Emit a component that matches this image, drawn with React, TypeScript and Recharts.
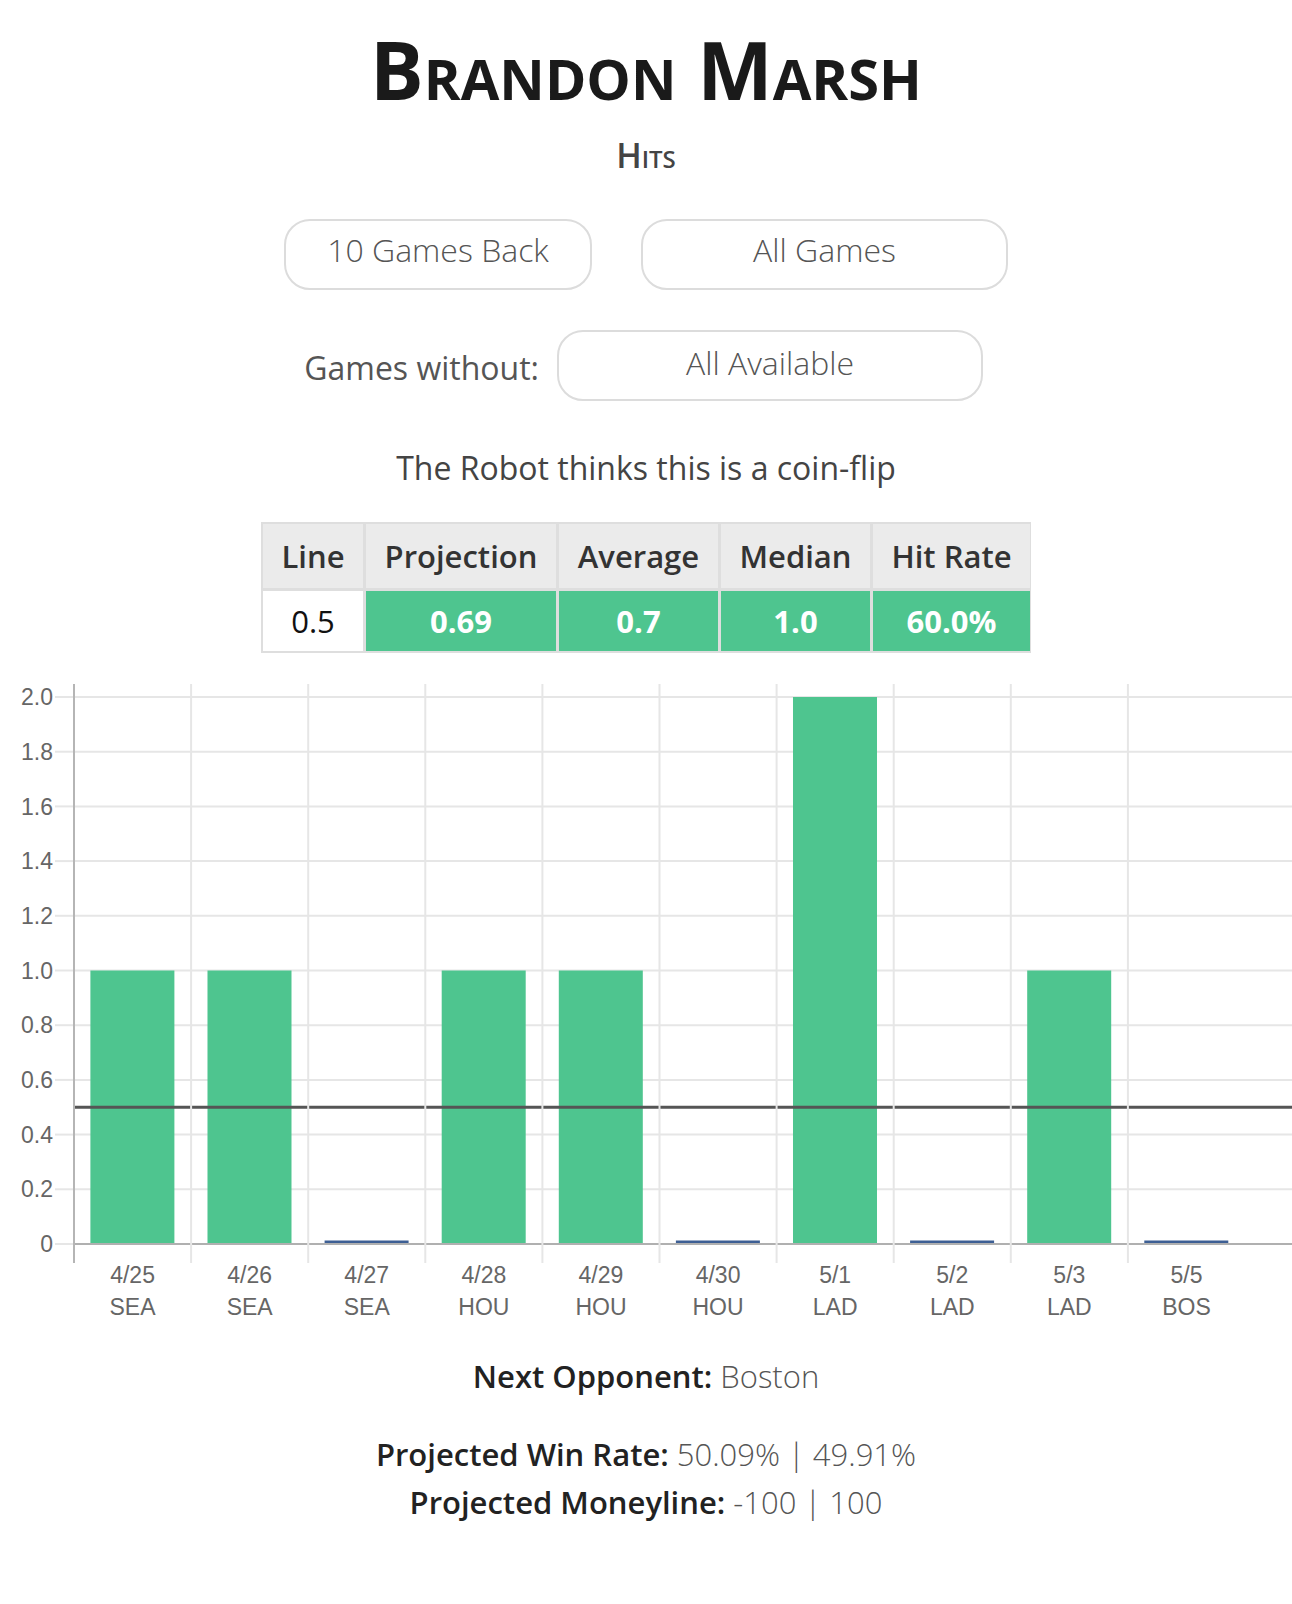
import React from 'react';
import { BarChart, Bar, XAxis, YAxis, CartesianGrid, ReferenceLine } from 'recharts';

const gameDates = ['4/25', '4/26', '4/27', '4/28', '4/29', '4/30', '5/1', '5/2', '5/3', '5/5'];
const opponents = ['SEA', 'SEA', 'SEA', 'HOU', 'HOU', 'HOU', 'LAD', 'LAD', 'LAD', 'BOS'];
const hits = [1, 1, 0, 1, 1, 0, 2, 0, 1, 0];
const yTicks = [0, 0.2, 0.4, 0.6, 0.8, 1.0, 1.2, 1.4, 1.6, 1.8, 2.0];
const propLine = 0.5;

const statHeaders = ['Line', 'Projection', 'Average', 'Median', 'Hit Rate'];
const statValues = ['0.5', '0.69', '0.7', '1.0', '60.0%'];

const chartData = gameDates.map((d, i) => ({ date: d, opp: opponents[i], hits: hits[i] }));

const GREEN = '#4ec58f';
const SANS = '"Open Sans", "Noto Sans", sans-serif';
const CHART_FONT = '"Liberation Sans", Arial, sans-serif';

// chart geometry
const CHART_W = 1292;
const CHART_H = 700;
const MARGIN = { top: 37, right: 0, bottom: 36, left: 0 };
const Y_AXIS_W = 74;
const X_AXIS_H = 80;
const PAD_RIGHT = 47;
const PLOT_H = CHART_H - MARGIN.top - MARGIN.bottom - X_AXIS_H;
const BAND_W = (CHART_W - Y_AXIS_W - PAD_RIGHT) / gameDates.length;

// places a single line of text so that its cap-height centre lands on cy
const textTop = (cy: number, fs: number) => cy - 0.031 * fs - fs / 2;

const XTick = (props: any) => {
  const { x, y, payload, index } = props;
  const half = payload && payload.offset ? payload.offset : BAND_W / 2;
  const bx = x - half;
  return (
    <g>
      <line x1={bx} x2={bx} y1={y - PLOT_H - 13} y2={y + 19}
        stroke={index === 0 ? '#b5b5b5' : '#e6e6e6'} strokeWidth={2} />
      <text x={x} y={y + 31} textAnchor="middle" fill="#666" fontSize={23} fontFamily={CHART_FONT}>
        <tspan x={x} dy="0.355em">{payload.value}</tspan>
        <tspan x={x} dy={32}>{opponents[index]}</tspan>
      </text>
    </g>
  );
};

// games with no hits show as a thin blue stroke on the baseline
const HitBar = (props: any) => {
  const { x, y, width, height, payload } = props;
  if (payload.hits === 0) {
    return <rect x={x} y={y - 3.5} width={width} height={3} fill="#3d5f94" />;
  }
  return <rect x={x} y={y} width={width} height={height} fill={GREEN} />;
};

const Pill = ({ left, top, width, label, lift }: any) => (
  <div style={{
    position: 'absolute', left, top, width, height: 71, boxSizing: 'border-box',
    border: '2px solid #dcdcdc', borderRadius: 26, display: 'flex',
    alignItems: 'center', justifyContent: 'center', paddingBottom: lift,
    fontSize: 32, fontWeight: 300, color: '#555', lineHeight: '32px',
  }}>{label}</div>
);

const colWidths = [103, 193, 162, 152, 160];

const bottomLine = (cy: number) => ({
  position: 'absolute' as const, left: 0, width: 1292, top: textTop(cy, 31), textAlign: 'center' as const,
  fontSize: 31, lineHeight: '31px', color: '#555', fontWeight: 300,
});

const App = () => {
  return (
    <div style={{ position: 'relative', width: 1292, height: 1604, background: '#fff', fontFamily: SANS }}>
      <style>{'body { margin: 0; }'}</style>

      <div style={{ position: 'absolute', left: 0, width: 1292, top: textTop(71, 80), textAlign: 'center',
        fontSize: 80, lineHeight: '80px', fontWeight: 700, fontVariant: 'small-caps', color: '#1a1a1a' }}>
        Brandon Marsh
      </div>
      <div style={{ position: 'absolute', left: 0, width: 1292, top: textTop(156, 34), textAlign: 'center',
        fontSize: 34, lineHeight: '34px', fontWeight: 600, fontVariant: 'small-caps', color: '#444' }}>
        Hits
      </div>

      <Pill left={284} top={219} width={308} label="10 Games Back" lift={9} />
      <Pill left={641} top={219} width={367} label="All Games" lift={9} />

      <div style={{ position: 'absolute', right: 1292 - 539, top: textTop(369, 32), fontSize: 32,
        lineHeight: '32px', color: '#555' }}>
        Games without:
      </div>
      <Pill left={557} top={330} width={426} label="All Available" lift={5} />

      <div style={{ position: 'absolute', left: 0, width: 1292, top: textTop(469, 32), textAlign: 'center',
        fontSize: 32, lineHeight: '32px', color: '#444' }}>
        The Robot thinks this is a coin-flip
      </div>

      <div style={{ position: 'absolute', left: 261, top: 522, width: 770, boxSizing: 'border-box',
        background: '#dedede', padding: 2, display: 'grid',
        gridTemplateColumns: colWidths.map((w) => `${w - 3}px`).join(' '), columnGap: 3, rowGap: 3 }}>
        {statHeaders.map((h) => (
          <div key={h} style={{ height: 64, background: '#ebebeb', display: 'flex', alignItems: 'center',
            justifyContent: 'center', fontSize: 31, fontWeight: 600, color: '#333' }}>{h}</div>
        ))}
        {statValues.map((v, i) => (
          <div key={i} style={{ height: 60, background: i === 0 ? '#fff' : GREEN, display: 'flex',
            alignItems: 'center', justifyContent: 'center', fontSize: 31,
            fontWeight: i === 0 ? 500 : 700, color: i === 0 ? '#111' : '#fff' }}>{v}</div>
        ))}
      </div>

      <div style={{ position: 'absolute', left: 0, top: 660 }}>
        <BarChart width={CHART_W} height={CHART_H} data={chartData} margin={MARGIN} barCategoryGap="14%">
          <CartesianGrid vertical={false} stroke="#e6e6e6" strokeWidth={2} />
          <XAxis dataKey="date" height={X_AXIS_H} interval={0} tick={<XTick />} tickSize={0} tickMargin={0}
            tickLine={false} axisLine={{ stroke: '#b0b0b0', strokeWidth: 2 }} padding={{ left: 0, right: PAD_RIGHT }} />
          <YAxis width={Y_AXIS_W} domain={[0, 2]} ticks={yTicks} interval={0} axisLine={false}
            tickLine={{ stroke: '#e6e6e6', strokeWidth: 2 }} tickSize={19} tickMargin={2}
            tickFormatter={(v: number) => (v === 0 ? '0' : v.toFixed(1))}
            tick={{ fill: '#666', fontSize: 23, fontFamily: CHART_FONT }} />
          <Bar dataKey="hits" isAnimationActive={false} shape={<HitBar />} />
          <ReferenceLine y={propLine} stroke="#555" strokeWidth={3} />
        </BarChart>
      </div>

      <div style={bottomLine(1377)}>
        <span style={{ fontWeight: 600, color: '#222' }}>Next Opponent:</span> Boston
      </div>
      <div style={bottomLine(1455)}>
        <span style={{ fontWeight: 600, color: '#222' }}>Projected Win Rate:</span> 50.09% | 49.91%
      </div>
      <div style={bottomLine(1503)}>
        <span style={{ fontWeight: 600, color: '#222' }}>Projected Moneyline:</span> -100 | 100
      </div>
    </div>
  );
};

export default App;
